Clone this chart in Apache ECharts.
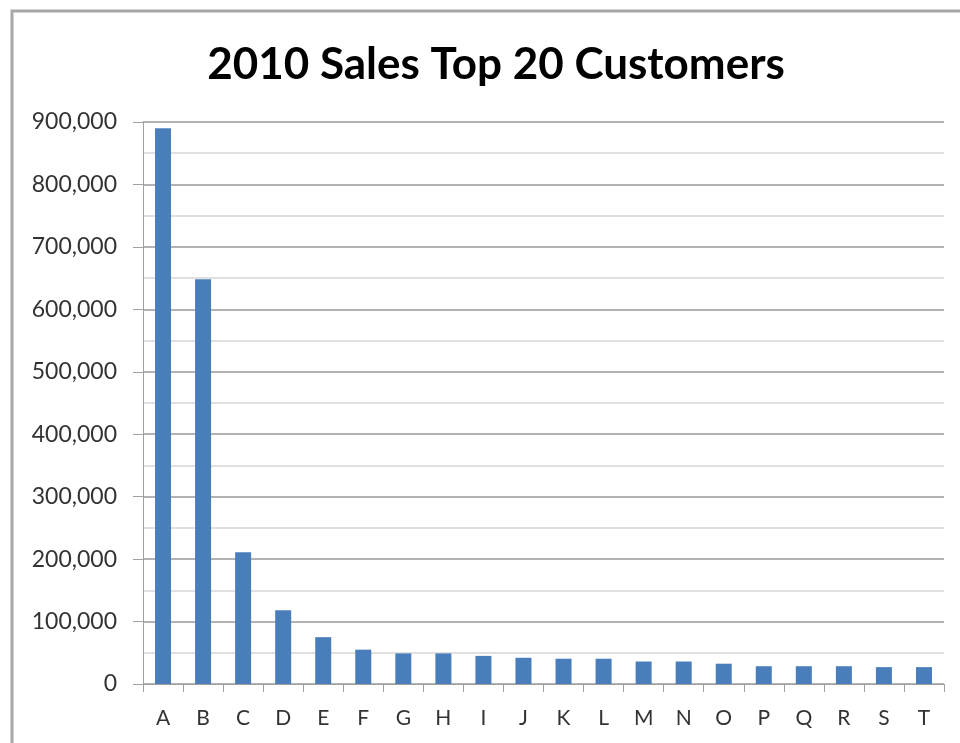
<!DOCTYPE html>
<html>
<head>
<meta charset="utf-8">
<script src="https://cdn.jsdelivr.net/npm/echarts@6/dist/echarts.min.js"></script>
<style>html,body{margin:0;padding:0;background:#fff}#c{width:960px;height:743px}</style>
</head>
<body>
<div id="c"></div>
<script>
const titleText = '2010 Sales Top 20 Customers';
const categories = ['A','B','C','D','E','F','G','H','I','J','K','L','M','N','O','P','Q','R','S','T'];
const sales = [890000, 648000, 211000, 118000, 75000, 55000, 49000, 49000, 45000, 42000, 40500, 40500, 36000, 36000, 32500, 28500, 28500, 28500, 27000, 27000];

const chart = echarts.init(document.getElementById('c'), null, {renderer: 'canvas'});
chart.setOption({
  backgroundColor: '#fff',
  animation: false,
  title: {
    text: titleText,
    left: 491,
    top: 38,
    textAlign: 'center',
    textStyle: {fontFamily: 'Lato', fontWeight: 'bold', fontSize: 44, color: '#000'}
  },
  graphic: [{
    type: 'rect',
    shape: {x: 12, y: 11, width: 980, height: 780},
    style: {fill: 'none', stroke: '#a8a8a8', lineWidth: 3},
    silent: true
  }],
  grid: {left: 143, right: 16, top: 122, bottom: 59, containLabel: false},
  xAxis: {
    type: 'category',
    data: categories,
    boundaryGap: true,
    axisLine: {show: true, lineStyle: {color: '#a0a0a0', width: 1}},
    axisTick: {show: true, alignWithLabel: false, length: 8, lineStyle: {color: '#a0a0a0'}},
    axisLabel: {margin: 24, fontFamily: 'Lato', fontSize: 21, color: '#333'},
    splitLine: {show: false}
  },
  yAxis: {
    type: 'value',
    min: 0,
    max: 900000,
    interval: 100000,
    axisLine: {show: true, lineStyle: {color: '#a0a0a0', width: 1}},
    axisTick: {show: true, length: 10, lineStyle: {color: '#a0a0a0'}},
    minorTick: {show: false, splitNumber: 2},
    axisLabel: {
      margin: 26, fontFamily: 'Lato', fontSize: 23, color: '#333',
      formatter: v => v.toLocaleString('en-US')
    },
    splitLine: {show: true, lineStyle: {color: '#9a9a9a', width: 1.5}},
    minorSplitLine: {show: true, lineStyle: {color: '#d6d6d6', width: 1.5}}
  },
  series: [{
    type: 'bar',
    data: sales,
    barWidth: '40%',
    itemStyle: {color: '#4a7ebb'}
  }]
});
</script>
</body>
</html>
